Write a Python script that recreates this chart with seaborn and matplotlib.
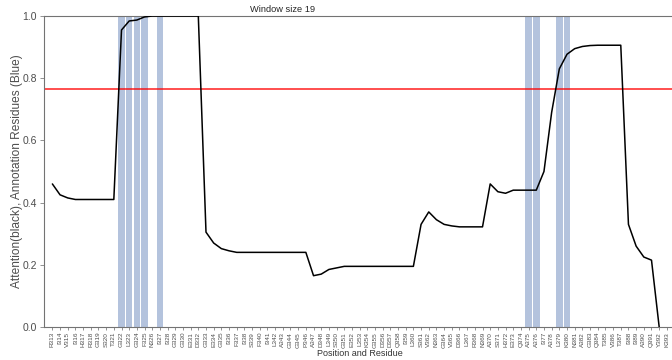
import numpy as np
import pandas as pd
import matplotlib
matplotlib.use("Agg")
import matplotlib.pyplot as plt
import seaborn as sns

residues = [
    "R313", "I314", "V315", "I316", "H317", "R318", "G319", "S320", "T321", "G322",
    "L323", "G324", "F325", "N326", "I327", "I328", "G329", "G330", "E331", "D332",
    "G333", "E334", "G335", "I336", "F337", "I338", "S339", "F340", "I341", "L342",
    "A343", "G344", "G345", "P346", "A347", "D348", "L349", "S350", "G351", "E352",
    "L353", "K354", "G355", "D356", "D357", "Q358", "I359", "L360", "S361", "V362",
    "N363", "G364", "V365", "D366", "L367", "R368", "N369", "A370", "S371", "H372",
    "E373", "Q374", "A375", "A376", "I377", "A378", "L379", "K380", "N381", "A382",
    "G383", "Q384", "T385", "V386", "T387", "I388", "I389", "A390", "Q391", "Y392",
    "K393",
]

attention = [
    0.46, 0.425, 0.415, 0.41, 0.41, 0.41, 0.41, 0.41, 0.41, 0.955,
    0.984, 0.987, 0.997, 1.0, 1.0, 1.0, 1.0, 1.0, 1.0, 1.0,
    0.305, 0.27, 0.252, 0.245, 0.24, 0.24, 0.24, 0.24, 0.24, 0.24,
    0.24, 0.24, 0.24, 0.24, 0.165, 0.17, 0.185, 0.19, 0.195, 0.195,
    0.195, 0.195, 0.195, 0.195, 0.195, 0.195, 0.195, 0.195, 0.33, 0.37,
    0.345, 0.33, 0.325, 0.322, 0.322, 0.322, 0.322, 0.46, 0.435, 0.43,
    0.44, 0.44, 0.44, 0.44, 0.50, 0.69, 0.83, 0.877, 0.895, 0.902,
    0.905, 0.906, 0.906, 0.906, 0.906, 0.33, 0.26, 0.225, 0.215, 0.0,
    np.nan,
]

annotated = ["G322", "L323", "G324", "F325", "I327", "A375", "A376", "L379", "K380"]

threshold = 0.765

sns.set_theme(style="ticks")
plt.rcParams["font.family"] = ["Liberation Sans", "DejaVu Sans"]

df = pd.DataFrame({"pos": np.arange(len(residues)), "residue": residues,
                   "attention": attention})
df["annotation"] = df["residue"].isin(annotated).astype(float)

W, H = 672, 360
left_px, right_px, top_px, bottom_px = 44, 676, 16, 327
fig = plt.figure(figsize=(W / 100, H / 100), dpi=100)
ax = fig.add_axes([left_px / W, 1 - bottom_px / H,
                   (right_px - left_px) / W, (bottom_px - top_px) / H])

# annotated residues as full-height blue bars
ann = df[df["annotation"] > 0]
ax.bar(ann["pos"], ann["annotation"], width=0.86, color="#4C72B0", alpha=0.42,
       linewidth=0, zorder=1)

sns.lineplot(data=df, x="pos", y="attention", color="black", linewidth=1.1,
             ax=ax, zorder=3)
ax.axhline(threshold, color="red", alpha=0.75, linewidth=1.3, zorder=2)

ax.set_xlim(-1.09, 81.19)
ax.set_ylim(0, 1.0)
ax.set_xticks(df["pos"])
ax.set_xticklabels(residues, rotation=90, fontsize=4.6, color="0.3")
ax.set_yticks([0.0, 0.2, 0.4, 0.6, 0.8, 1.0])
ax.set_yticklabels(["0.0", "0.2", "0.4", "0.6", "0.8", "1.0"], fontsize=7.5,
                   color="0.3")
ax.tick_params(axis="both", length=3, width=0.6, color="0.5", pad=2)
ax.tick_params(axis="x", length=2.5, pad=1)

ax_w = right_px - left_px
ax_h = bottom_px - top_px
ax.set_xlabel("Position and Residue", fontsize=6.5, color="0.2")
ax.xaxis.set_label_coords((360 - left_px) / ax_w, -(353.5 - bottom_px) / ax_h)
ax.xaxis.label.set_va("center")
ax.set_ylabel("Attention(black), Annotation Residues (Blue)", fontsize=8.6,
              color="0.3")
ax.yaxis.set_label_coords((17 - left_px) / ax_w, 0.5)
ax.yaxis.label.set_va("center")
for side in ["left", "bottom", "top", "right"]:
    ax.spines[side].set_color("0.45")
    ax.spines[side].set_linewidth(0.8)

fig.text(283 / W, 1 - 10 / H, "Window size 19", ha="center", va="center",
         fontsize=6.7, color="0.15")

fig.savefig("out.png", dpi=100)
